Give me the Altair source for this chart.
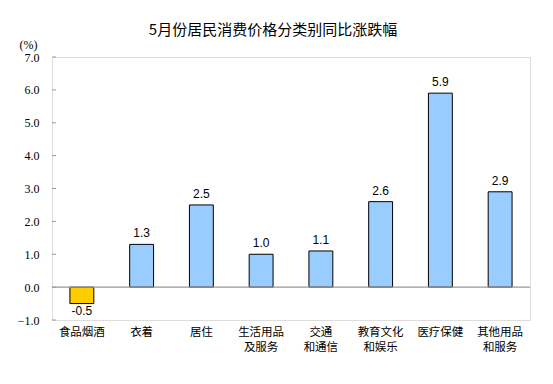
import altair as alt
import pandas as pd

title_text = "5月份居民消费价格分类别同比涨跌幅"
categories = ["食品烟酒", "衣着", "居住", "生活用品\n及服务", "交通\n和通信", "教育文化\n和娱乐", "医疗保健", "其他用品\n和服务"]
values = [-0.5, 1.3, 2.5, 1.0, 1.1, 2.6, 5.9, 2.9]
y_ticks = [-1, 0, 1, 2, 3, 4, 5, 6, 7]

df = pd.DataFrame({"cat": categories, "val": values})
df["label"] = df["val"].map(lambda v: f"{v:.1f}")
df["neg"] = df["val"] < 0
ticks_df = pd.DataFrame({"t": y_ticks})

xaxis = alt.Axis(title=None, labelAngle=0, domain=False, ticks=False,
                 labelExpr="split(datum.label, '\\n')",
                 labelFont="Noto Sans CJK SC", labelFontSize=11.5,
                 labelColor="#000", labelPadding=12, labelLineHeight=15,
                 labelBaseline="middle", labelOverlap=False)
xscale = alt.Scale(paddingInner=0.6, paddingOuter=0.3)
yaxis = alt.Axis(values=y_ticks, format=".1f", grid=False, domain=False,
                 ticks=False, labelPadding=13, labelFont="Liberation Serif",
                 labelFontSize=12, labelColor="#000", labelOverlap=False,
                 labelFlush=False,
                 title="(%)", titleAngle=0, titleX=-33, titleY=-13,
                 titleAlign="left", titleBaseline="middle",
                 titleFont="Liberation Serif", titleFontSize=12,
                 titleFontWeight="normal", titleColor="#000")
yscale = alt.Scale(domain=[-1, 7], nice=False, zero=False)

bars = alt.Chart(df).mark_bar(stroke="black", strokeWidth=1).encode(
    x=alt.X("cat:N", sort=categories, scale=xscale, axis=xaxis),
    y=alt.Y("val:Q", scale=yscale, axis=yaxis),
    y2=alt.datum(0),
    color=alt.Color("neg:N", scale=alt.Scale(domain=[False, True], range=["#99CCFF", "#FFCC00"]), legend=None),
)

zero = alt.Chart(pd.DataFrame({"z": [0]})).mark_rule(color="#999999", strokeWidth=1.2).encode(
    y=alt.Y("z:Q", scale=yscale, axis=yaxis))

tickmarks = alt.Chart(ticks_df).mark_rule(color="#999999", strokeWidth=1).encode(
    y=alt.Y("t:Q", scale=yscale, axis=yaxis), x=alt.value(0), x2=alt.value(4))

pos_labels = alt.Chart(df).transform_filter("datum.val >= 0").mark_text(
    baseline="bottom", dy=-4, font="Liberation Sans", fontSize=12, color="#000").encode(
    x=alt.X("cat:N", sort=categories, scale=xscale, axis=xaxis),
    y=alt.Y("val:Q", scale=yscale, axis=yaxis), text="label:N")

neg_labels = alt.Chart(df).transform_filter("datum.val < 0").mark_text(
    baseline="top", dy=2, font="Liberation Sans", fontSize=12, color="#000").encode(
    x=alt.X("cat:N", sort=categories, scale=xscale, axis=xaxis),
    y=alt.Y("val:Q", scale=yscale, axis=yaxis), text="label:N")

title_mark = alt.Chart(pd.DataFrame({"t": [title_text]})).mark_text(
    font="Noto Sans CJK SC", fontSize=15, color="#000", align="center", baseline="middle").encode(
    text="t:N", x=alt.value(221), y=alt.value(-27))

chart = alt.layer(bars, zero, tickmarks, pos_labels, neg_labels, title_mark).properties(
    width=478, height=263,
    autosize=alt.AutoSizeParams(type="none"),
    padding={"left": 44, "top": 49, "right": 15, "bottom": 56},
).configure_view(stroke="#999999", strokeWidth=1.2).configure(background="white")

chart.save("out.html", embed_options={"renderer": "svg", "actions": False})
